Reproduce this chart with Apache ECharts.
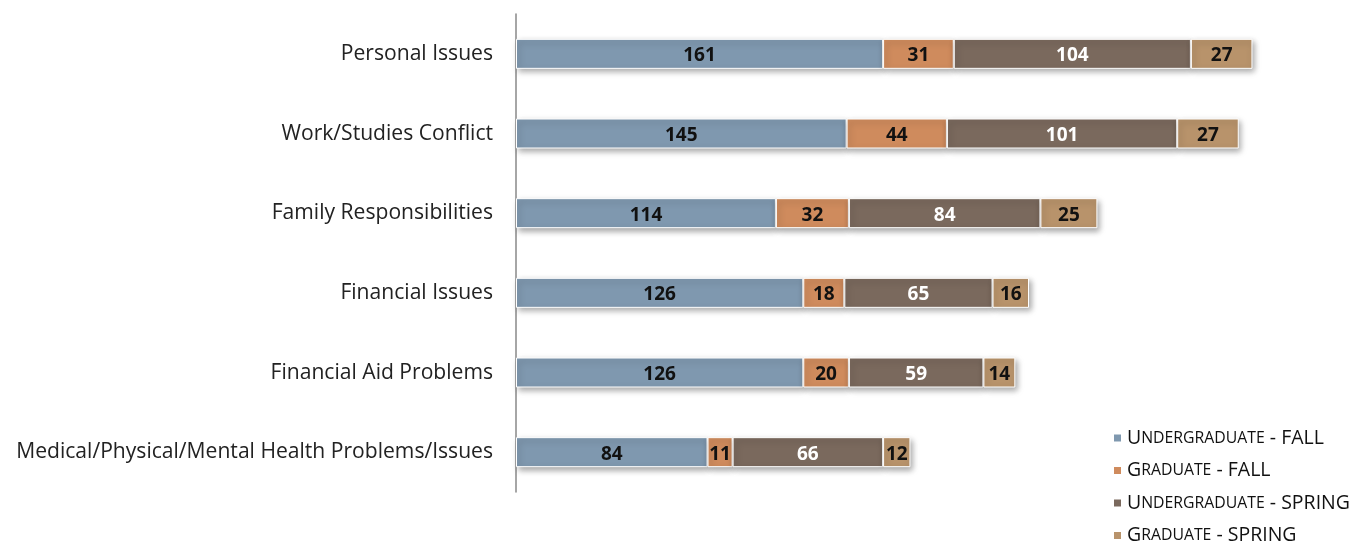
<!DOCTYPE html>
<html>
<head>
<meta charset="utf-8">
<script src="https://cdn.jsdelivr.net/npm/echarts@6/dist/echarts.min.js"></script>
<style>
  html, body { margin: 0; padding: 0; background: #fff; }
  #chart { width: 1358px; height: 543px; }
</style>
</head>
<body>
<div id="chart"></div>
<script>
  var categories = ['Personal Issues', 'Work/Studies Conflict', 'Family Responsibilities',
    'Financial Issues', 'Financial Aid Problems', 'Medical/Physical/Mental Health Problems/Issues'];
  var seriesNames = ['Undergraduate - FALL', 'Graduate - FALL', 'Undergraduate - SPRING', 'Graduate - SPRING'];
  var undergradFall = [161, 145, 114, 126, 126, 84];
  var gradFall = [31, 44, 32, 18, 20, 11];
  var undergradSpring = [104, 101, 84, 65, 59, 66];
  var gradSpring = [27, 27, 25, 16, 14, 12];

  var colors = ['#7f98af', '#cf8b5d', '#7a695d', '#b8936b'];
  var labelColors = ['#111', '#111', '#fff', '#111'];
  var values = [undergradFall, gradFall, undergradSpring, gradSpring];

  var chart = echarts.init(document.getElementById('chart'));

  var series = values.map(function (vals, i) {
    return {
      name: seriesNames[i],
      type: 'bar',
      stack: 'total',
      barWidth: 30,
      data: vals,
      itemStyle: {
        color: colors[i],
        borderColor: '#fff',
        borderWidth: 1,
        shadowColor: 'rgba(0,0,0,0.35)',
        shadowBlur: 6,
        shadowOffsetX: 2,
        shadowOffsetY: 3
      },
      label: {
        show: true,
        position: 'inside',
        color: labelColors[i],
        fontFamily: 'Open Sans',
        fontWeight: 'bold',
        fontSize: 19,
        offset: [0, 2]
      }
    };
  });

  function smallCaps(name) {
    var parts = name.split(' - ');
    return '{big|' + parts[0].charAt(0) + '}{small|' + parts[0].slice(1).toUpperCase() + '}{big| - ' + parts[1] + '}';
  }

  chart.setOption({
    animation: false,
    color: colors,
    grid: { left: 516, right: 44, top: 14, bottom: 51, containLabel: false },
    legend: {
      orient: 'vertical',
      left: 1112,
      top: 428,
      height: 140,
      itemWidth: 9,
      itemHeight: 9,
      itemGap: 12.5,
      padding: 0,
      icon: 'rect',
      formatter: smallCaps,
      textStyle: {
        fontFamily: 'Open Sans',
        color: '#111',
        rich: {
          big: { fontSize: 19.5, lineHeight: 19, fontFamily: 'Open Sans', color: '#111' },
          small: { fontSize: 15.8, lineHeight: 19, fontFamily: 'Open Sans', color: '#111' }
        }
      }
    },
    xAxis: {
      type: 'value',
      min: 0,
      max: 350,
      show: false,
      splitLine: { show: false }
    },
    yAxis: {
      type: 'category',
      inverse: true,
      data: categories,
      axisLine: { show: true, lineStyle: { color: '#888', width: 1.5 } },
      axisTick: { show: false },
      axisLabel: {
        margin: 23,
        fontFamily: 'Open Sans',
        fontSize: 21.1,
        color: '#222'
      }
    },
    series: series
  });
</script>
</body>
</html>
